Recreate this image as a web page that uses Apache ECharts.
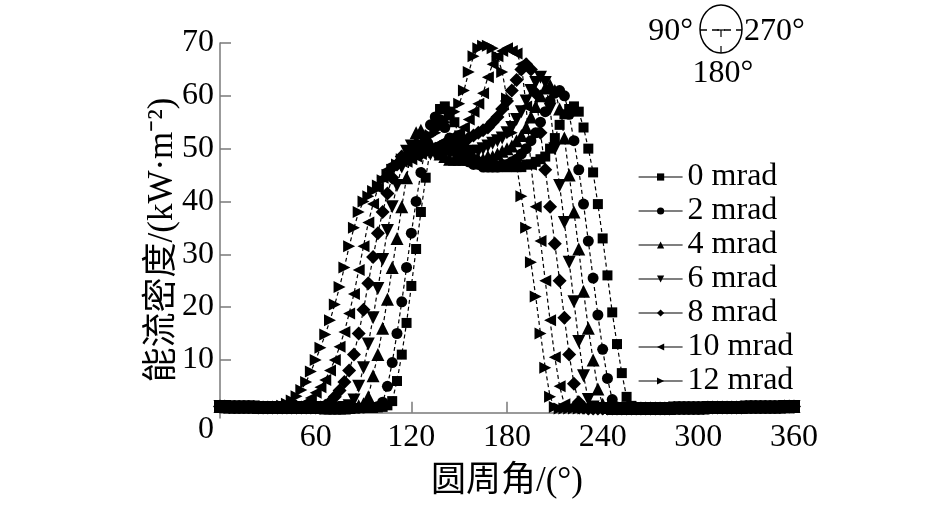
<!DOCTYPE html>
<html><head><meta charset="utf-8">
<script src="https://cdn.jsdelivr.net/npm/echarts@6/dist/echarts.min.js"></script>
<style>html,body{margin:0;padding:0;background:#fff}#c{width:945px;height:506px}</style>
</head><body><div id="c"></div>
<script>
const FONT = "'Liberation Serif','Times New Roman','Noto Sans CJK SC',serif";

const angles = [
0,3,6,9,12,15,18,21,24,27,
30,33,36,39,42,45,48,51,54,57,
60,63,66,69,72,75,78,81,84,87,
90,93,96,99,102,105,108,111,114,117,
120,123,126,129,132,135,138,141,144,147,
150,153,156,159,162,165,168,171,174,177,
180,183,186,189,192,195,198,201,204,207,
210,213,216,219,222,225,228,231,234,237,
240,243,246,249,252,255,258,261,264,267,
270,273,276,279,282,285,288,291,294,297,
300,303,306,309,312,315,318,321,324,327,
330,333,336,339,342,345,348,351,354,357,
360];

const err0 = [
1.2,1.2,1.1,1.1,1.1,1.1,1.1,1.1,1.0,1.0,
1.0,1.0,1.0,1.0,1.0,1.0,1.0,1.0,1.0,1.0,
1.0,1.0,0.9,0.9,0.9,0.9,0.9,0.9,0.9,0.9,
0.9,0.9,0.9,1.0,1.1,1.4,2.2,6,11,17,
24,31,38,44.5,50,54.5,57.5,58,57,55,
52.5,50.5,49,48,47.5,47,46.5,46.5,46.5,46.5,
46.5,46.5,46.5,46.5,47,47,47.5,48,48.5,50,
52,54.5,56.5,57.5,58,57,54,50,45.5,39.5,
33,26,19,13,7.5,3,1.3,0.8,0.8,0.8,
0.8,0.8,0.8,0.8,0.8,0.9,0.9,0.9,0.9,0.9,
0.9,0.9,1.0,1.0,1.0,1.0,1.0,1.0,1.0,1.0,
1.1,1.1,1.1,1.1,1.1,1.1,1.1,1.1,1.2,1.2,
1.2];

const err2 = [
1.2,1.2,1.1,1.1,1.1,1.1,1.1,1.1,1.0,1.0,
1.0,1.0,1.0,1.0,1.0,1.0,1.0,1.0,1.0,1.0,
1.0,1.0,0.9,0.9,0.9,0.9,0.9,0.9,0.9,0.9,
0.9,1.0,1.0,1.2,2,5,9.5,15,21,27.5,
34,40,45.5,50.5,54.5,56,55.5,54,52,50.5,
49,48,47.5,47,47,46.5,46.5,46.5,46.5,47,
47,47.5,48,49,50,51.5,53,55,57,59,
60.5,61,60,56.5,51.5,46,39.5,32.5,25.5,18.5,
12,6.5,2.5,1.1,0.8,0.8,0.8,0.8,0.8,0.8,
0.8,0.8,0.8,0.8,0.8,0.9,0.9,0.9,0.9,0.9,
0.9,0.9,1.0,1.0,1.0,1.0,1.0,1.0,1.0,1.0,
1.1,1.1,1.1,1.1,1.1,1.1,1.1,1.1,1.2,1.2,
1.2];

const err4 = [
1.2,1.2,1.1,1.1,1.1,1.1,1.1,1.1,1.0,1.0,
1.0,1.0,1.0,1.0,1.0,1.0,1.0,1.0,1.0,1.0,
1.0,1.0,0.9,0.9,0.9,0.9,0.9,1.0,1.1,1.3,
1.7,3,7,11,16,21.5,27.5,33,39,44.5,
49.5,53,53.5,52.5,51,50,49,48.5,48,48,
48,48,48,48,48,48,48.5,48.5,49,49.5,
50,50.5,51.5,52.5,54,56,58,60,61.5,62,
61,57.5,52,45,38,31,23,16,10,4.5,
1.6,1.0,0.8,0.8,0.8,0.8,0.8,0.8,0.8,0.8,
0.8,0.8,0.8,0.8,0.8,0.9,0.9,0.9,0.9,0.9,
0.9,0.9,1.0,1.0,1.0,1.0,1.0,1.0,1.0,1.0,
1.1,1.1,1.1,1.1,1.1,1.1,1.1,1.1,1.2,1.2,
1.2];

const err6 = [
1.2,1.2,1.1,1.1,1.1,1.1,1.1,1.1,1.0,1.0,
1.0,1.0,1.0,1.0,1.0,1.0,1.0,1.0,1.0,1.0,
1.0,1.0,0.9,0.9,0.9,0.9,1.0,1.3,2.4,5,
8.5,13,18,23.5,29,34.5,39,43,46.5,49.5,
50.5,50,49.5,49.5,49,49,49,49,49,49,
49,49,49,49.5,49.5,50,50.5,51,51.5,52,
53,54,55.5,57,59,61,62.5,63.5,62.5,57.5,
50,43,36,28.5,21,13.5,7,2.5,1.1,0.8,
0.8,0.8,0.8,0.8,0.8,0.8,0.8,0.8,0.8,0.8,
0.8,0.8,0.8,0.8,0.8,0.9,0.9,0.9,0.9,0.9,
0.9,0.9,1.0,1.0,1.0,1.0,1.0,1.0,1.0,1.0,
1.1,1.1,1.1,1.1,1.1,1.1,1.1,1.1,1.2,1.2,
1.2];

const err8 = [
1.2,1.2,1.1,1.1,1.1,1.1,1.1,1.1,1.0,1.0,
1.0,1.0,1.0,1.0,1.0,1.0,1.0,1.0,1.0,1.0,
1.0,1.0,1.3,2,3,4.2,5.8,8,11,15,
19.5,24.5,29.5,34,38,41.5,44.5,47,48.5,48.5,
48.5,49,49,49.5,49.5,50,50,50.5,50.5,51,
51,51.5,52,52.5,53,53.5,54,55,56,57.5,
59,61,63,65,66,65,60.5,53,46,39,
32,25,18,11,5.5,2,1.0,0.8,0.8,0.8,
0.8,0.8,0.8,0.8,0.8,0.8,0.8,0.8,0.8,0.8,
0.8,0.8,0.8,0.8,0.8,0.9,0.9,0.9,0.9,0.9,
0.9,0.9,1.0,1.0,1.0,1.0,1.0,1.0,1.0,1.0,
1.1,1.1,1.1,1.1,1.1,1.1,1.1,1.1,1.2,1.2,
1.2];

const err10 = [
1.2,1.2,1.1,1.1,1.1,1.1,1.1,1.1,1.0,1.0,
1.0,1.0,1.0,1.0,1.0,1.0,1.0,1.4,2,2.8,
3.8,4.8,6.2,8,10,12.5,15.3,18.8,22.5,27,
31.5,36,39.5,42.5,44.5,46,47,47.5,47.5,47.5,
48,48.5,49,49.5,50,50.5,51,51.5,52,52.5,
53,54,55.5,57,58.5,60.5,63.5,66,67.5,68.5,
69,68.5,68,66,58,47,39,32.5,25,17.5,
10.5,5,1.6,1.0,0.8,0.8,0.8,0.8,0.8,0.8,
0.8,0.8,0.8,0.8,0.8,0.8,0.8,0.8,0.8,0.8,
0.8,0.8,0.8,0.8,0.8,0.9,0.9,0.9,0.9,0.9,
0.9,0.9,1.0,1.0,1.0,1.0,1.0,1.0,1.0,1.0,
1.1,1.1,1.1,1.1,1.1,1.1,1.1,1.1,1.2,1.2,
1.2];

const err12 = [
1.2,1.2,1.1,1.1,1.1,1.1,1.1,1.1,1.0,1.0,
1.0,1.0,1.0,1.3,1.7,2.3,3.1,4.3,5.8,7.8,
10,12.3,14.8,17.5,20.5,23.8,27.5,31.5,35,38,
40,41,42,43,44,45,46,47,48,48.5,
49.5,50,51,51.5,52.5,53,54,55,56,57,
58.5,61,64.5,67.5,69,69.5,69.5,69,67.5,64.5,
59.5,53,47,41,35,28.5,22,15,8.5,3,
1.1,0.8,0.8,0.8,0.8,0.8,0.8,0.8,0.8,0.8,
0.8,0.8,0.8,0.8,0.8,0.8,0.8,0.8,0.8,0.8,
0.8,0.8,0.8,0.8,0.8,0.9,0.9,0.9,0.9,0.9,
0.9,0.9,1.0,1.0,1.0,1.0,1.0,1.0,1.0,1.0,
1.1,1.1,1.1,1.1,1.1,1.1,1.1,1.1,1.2,1.2,
1.2];

const seriesNames = ['0 mrad','2 mrad','4 mrad','6 mrad','8 mrad','10 mrad','12 mrad'];
const seriesValues = [err0, err2, err4, err6, err8, err10, err12];
const xTicks = [0,60,120,180,240,300,360];
const yTicks = [10,20,30,40,50,60,70];

const symbols = [
  ['rect', 10],
  ['circle', 11],
  ['triangle', 13],
  ['path://M0,0L10,0L5,10Z', 13],
  ['diamond', 14],
  ['path://M10,0L10,10L0,5Z', 12],
  ['path://M0,0L0,10L10,5Z', 12]
];

const chart = echarts.init(document.getElementById('c'), null, {renderer:'canvas'});
const axisColor = '#7a7a7a';

const series = seriesNames.map((n, k) => ({
  type: 'line',
  name: n,
  data: angles.map((a, i) => [a, seriesValues[k][i]]),
  symbol: symbols[k][0],
  symbolSize: symbols[k][1],
  showAllSymbol: true,
  itemStyle: {color: '#000', borderWidth: 0},
  lineStyle: {color: '#000', width: 1.2, type: [4, 3]},
  emphasis: {disabled: true},
  animation: false,
  clip: false
}));

chart.setOption({
  backgroundColor: '#fff',
  animation: false,
  grid: {left: 220, right: 151, top: 43, bottom: 88, containLabel: false},
  xAxis: {
    type: 'value', min: 0, max: 360, interval: 60,
    name: '圆周角/(°)', nameLocation: 'middle', nameGap: 46,
    nameTextStyle: {fontFamily: FONT, fontSize: 35, color: '#000'},
    axisLine: {show: true, lineStyle: {color: axisColor, width: 1.5}},
    axisTick: {show: true, inside: true, length: 11, lineStyle: {color: axisColor, width: 1.5}},
    axisLabel: {
      fontFamily: FONT, fontSize: 32, color: '#000', margin: 4,
      formatter: v => (v === 0 ? '' : String(v))
    },
    splitLine: {show: false}
  },
  yAxis: {
    type: 'value', min: -1, max: 70,
    axisLine: {show: true, lineStyle: {color: axisColor, width: 1.5}},
    axisTick: {show: true, inside: true, length: 11, customValues: yTicks, lineStyle: {color: axisColor, width: 1.5}},
    axisLabel: {fontFamily: FONT, fontSize: 32, color: '#000', margin: 6, customValues: yTicks},
    splitLine: {show: false}
  },
  legend: {
    orient: 'vertical', left: 638, top: 161, padding: 0,
    itemWidth: 44, itemHeight: 9, itemGap: 2,
    data: seriesNames,
    selectedMode: false,
    textStyle: {fontFamily: FONT, fontSize: 32, color: '#000'},
    lineStyle: {type: 'solid', width: 1.2, color: '#000'}
  },
  graphic: [
    {type: 'text', x: 163, y: 240, rotation: Math.PI / 2,
     style: {text: '能流密度/(kW·m⁻²)', font: '35px ' + FONT, fill: '#000', textAlign: 'center', textVerticalAlign: 'middle'}},
    {type: 'text', x: 214, y: 430, style: {text: '0', font: '32px ' + FONT, fill: '#000', textAlign: 'right', textVerticalAlign: 'middle'}},
    {type: 'ellipse', shape: {cx: 721, cy: 29, rx: 21, ry: 24}, style: {fill: 'none', stroke: '#000', lineWidth: 1.5}},
    {type: 'line', shape: {x1: 700, y1: 30, x2: 742, y2: 30}, style: {stroke: '#000', lineWidth: 1.5, lineDash: [7, 5]}},
    {type: 'line', shape: {x1: 717, y1: 30, x2: 725, y2: 30}, style: {stroke: '#000', lineWidth: 1.2}},
    {type: 'line', shape: {x1: 721, y1: 30, x2: 721, y2: 37}, style: {stroke: '#000', lineWidth: 1.2}},
    {type: 'line', shape: {x1: 721, y1: 46, x2: 721, y2: 53}, style: {stroke: '#000', lineWidth: 1.2}},
    {type: 'text', x: 693, y: 32, style: {text: '90°', font: '32px ' + FONT, fill: '#000', textAlign: 'right', textVerticalAlign: 'middle'}},
    {type: 'text', x: 744, y: 32, style: {text: '270°', font: '32px ' + FONT, fill: '#000', textAlign: 'left', textVerticalAlign: 'middle'}},
    {type: 'text', x: 723, y: 74, style: {text: '180°', font: '32px ' + FONT, fill: '#000', textAlign: 'center', textVerticalAlign: 'middle'}}
  ],
  series: series
});
</script>
</body></html>
